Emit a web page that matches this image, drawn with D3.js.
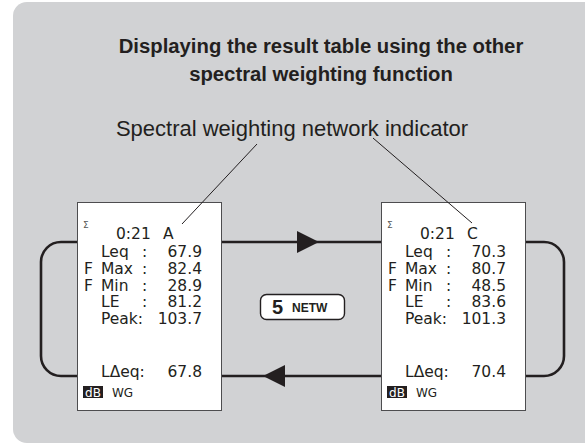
<!DOCTYPE html>
<html>
<head>
<meta charset="utf-8">
<script src="https://cdn.jsdelivr.net/npm/d3@7"></script>
<style>
  body { margin: 0; background: #fff; }
  svg { display: block; }
</style>
</head>
<body>
<div id="chart"></div>
<script>
// Text and readings shown on the two instrument screens
let titleLines = ["Displaying the result table using the other", "spectral weighting function"];
let indicatorLabel = "Spectral weighting network indicator";
let rowPrefixes = ["", "F", "F", "", ""];
let rowLabels = ["Leq", "Max", "Min", "LE", "Peak"];
let screenTime = ["0:21", "0:21"];
let screenNetwork = ["A", "C"];
let valuesA = ["67.9", "82.4", "28.9", "81.2", "103.7"];
let valuesC = ["70.3", "80.7", "48.5", "83.6", "101.3"];
let deltaValues = ["67.8", "70.4"];
let buttonKey = "5";
let buttonText = "NETW";

let width = 585, height = 445;
let ink = "#231f20";
let sans = "Liberation Sans, Arial, sans-serif";

let svg = d3.select("#chart").append("svg")
    .attr("width", width)
    .attr("height", height);

// Gray panel
svg.append("rect")
    .attr("x", 13).attr("y", 2)
    .attr("width", 600).attr("height", 441)
    .attr("rx", 14)
    .attr("fill", "#d1d2d4");

// Heading
svg.selectAll("text.title")
    .data(titleLines)
    .enter().append("text")
    .attr("class", "title")
    .attr("x", 321)
    .attr("y", (d, i) => 53 + i * 28)
    .attr("text-anchor", "middle")
    .attr("font-family", sans)
    .attr("font-weight", "bold")
    .attr("font-size", 20.3)
    .attr("fill", ink)
    .text(d => d);

svg.append("text")
    .attr("x", 292).attr("y", 136)
    .attr("text-anchor", "middle")
    .attr("font-family", sans)
    .attr("font-size", 22)
    .attr("fill", ink)
    .text(indicatorLabel);

// Loop lines connecting the two screens
let line = d3.line();
let loopG = svg.append("g")
    .attr("fill", "none")
    .attr("stroke", ink)
    .attr("stroke-width", 2.6);

loopG.append("path").attr("d", line([[222, 242], [381, 242]]));
loopG.append("path").attr("d", line([[222, 376], [381, 376]]));
loopG.append("path")
    .attr("d", "M77,242 H61 A20,20 0 0 0 41,262 V356 A20,20 0 0 0 61,376 H77");
loopG.append("path")
    .attr("d", "M525,242 H544 A20,20 0 0 1 564,262 V356 A20,20 0 0 1 544,376 H525");

// Arrowheads
svg.append("path")
    .attr("d", line([[297, 231], [319, 242], [297, 253]]) + "Z")
    .attr("fill", ink);
svg.append("path")
    .attr("d", line([[285, 365], [263, 376], [285, 387]]) + "Z")
    .attr("fill", ink);

// Screens
let screens = [
    {x: 77, time: screenTime[0], net: screenNetwork[0], values: valuesA, delta: deltaValues[0]},
    {x: 381, time: screenTime[1], net: screenNetwork[1], values: valuesC, delta: deltaValues[1]}
];

let rowY = d3.scalePoint()
    .domain(d3.range(rowLabels.length))
    .range([257, 324]);

let mono = "DejaVu Sans, Verdana, sans-serif";

screens.forEach(function(s) {
    let g = svg.append("g").attr("transform", "translate(" + s.x + ",202)");
    g.append("rect")
        .attr("x", 0.5).attr("y", 0.5)
        .attr("width", 144).attr("height", 208)
        .attr("fill", "#fff")
        .attr("stroke", "#4d4d4f")
        .attr("stroke-width", 1);

    g.append("text")
        .attr("x", 6).attr("y", 26)
        .attr("font-family", mono).attr("font-size", 9)
        .attr("fill", "#555").text("Σ");

    let t = g.append("g")
        .attr("font-family", mono)
        .attr("font-size", 15.5)
        .attr("fill", ink);

    t.append("text").attr("x", 39).attr("y", 37).text(s.time);
    t.append("text").attr("x", 86).attr("y", 37).text(s.net);

    rowLabels.forEach(function(lab, i) {
        let y = rowY(i) - 202;
        t.append("text").attr("x", 7).attr("y", y).text(rowPrefixes[i]);
        if (lab === "Peak") {
            // colon sits right after the longer label
            t.append("text").attr("x", 24).attr("y", y).text(lab + ":");
        } else {
            t.append("text").attr("x", 24).attr("y", y).text(lab);
            t.append("text").attr("x", 65).attr("y", y).text(":");
        }
        t.append("text").attr("x", 125).attr("y", y)
            .attr("text-anchor", "end").text(s.values[i]);
    });

    t.append("text").attr("x", 24).attr("y", 175).text("LΔeq:");
    t.append("text").attr("x", 125).attr("y", 175)
        .attr("text-anchor", "end").text(s.delta);

    // dB badge and WG
    g.append("rect")
        .attr("x", 6).attr("y", 184)
        .attr("width", 20).attr("height", 12)
        .attr("fill", ink);
    g.append("text")
        .attr("x", 16).attr("y", 195)
        .attr("text-anchor", "middle")
        .attr("font-family", mono).attr("font-size", 12)
        .attr("fill", "#fff").text("dB");
    g.append("text")
        .attr("x", 35).attr("y", 195)
        .attr("font-family", mono).attr("font-size", 12)
        .attr("fill", ink).text("WG");
});

// Leader lines to the network letters
let leaderG = svg.append("g").attr("stroke", ink).attr("stroke-width", 1);
leaderG.append("path").attr("d", line([[257, 144], [182, 224]]));
leaderG.append("path").attr("d", line([[373, 138], [472, 223]]));

// NETW key
svg.append("rect")
    .attr("x", 260.5).attr("y", 294.5)
    .attr("width", 84).attr("height", 25)
    .attr("rx", 6)
    .attr("fill", "#fff")
    .attr("stroke", ink)
    .attr("stroke-width", 1.4);
svg.append("text")
    .attr("x", 272).attr("y", 314)
    .attr("font-family", sans)
    .attr("font-weight", "bold").attr("font-size", 20)
    .attr("fill", ink).text(buttonKey);
svg.append("text")
    .attr("x", 292).attr("y", 312)
    .attr("font-family", sans)
    .attr("font-weight", "bold").attr("font-size", 12)
    .attr("fill", ink).text(buttonText);
</script>
</body>
</html>
